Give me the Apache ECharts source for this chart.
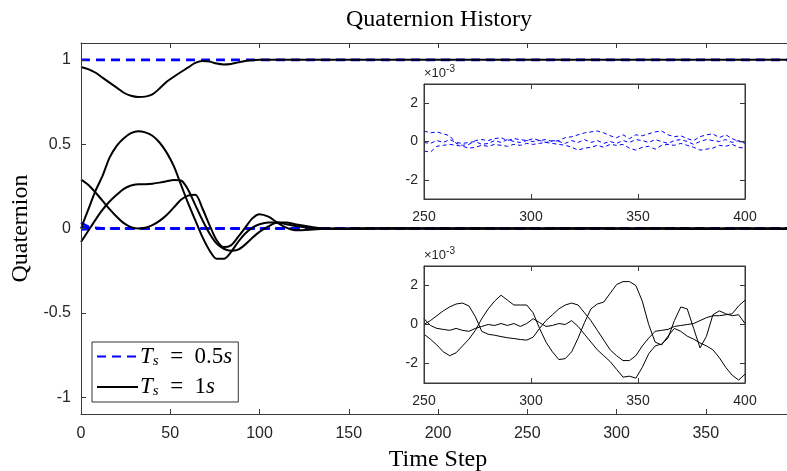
<!DOCTYPE html>
<html>
<head>
<meta charset="utf-8">
<script src="https://cdn.jsdelivr.net/npm/echarts@6/dist/echarts.min.js"></script>
<style>html,body{margin:0;padding:0;background:#fff}#c{width:787px;height:471px}</style>
</head>
<body>
<div id="c"></div>
<script>
// ---- Data ----
var earlyT = [0,4,8,12,16,20,24,28,32,36,40,44,48,52,56,60,64,68,72,76,80,84,88,92,96,100,105,110,115,120,130,140,150,160,170,180,190,200,210,220,230,240];
// Ts = 1s (black), four quaternion components
var blkA = [0.958,0.945,0.925,0.895,0.865,0.835,0.805,0.787,0.78,0.782,0.795,0.83,0.87,0.9,0.928,0.955,0.982,0.994,0.99,0.978,0.973,0.976,0.985,0.993,0.998,1.0,1,1,1,1,1,1,1,1,1,1,1,1,1,1,1,1];
var blkB = [0.0,0.11,0.22,0.31,0.42,0.49,0.535,0.565,0.577,0.57,0.55,0.51,0.45,0.37,0.26,0.15,0.05,-0.05,-0.13,-0.18,-0.18,-0.14,-0.08,-0.03,0.005,0.025,0.035,0.035,0.025,0.015,0.003,-0.002,-0.003,-0.001,0.001,0.002,0.001,0.0,-0.001,0,0.001,0];
var blkC = [0.29,0.26,0.215,0.165,0.115,0.07,0.032,0.008,0.0,0.005,0.02,0.045,0.08,0.125,0.17,0.195,0.2,0.12,0.02,-0.07,-0.11,-0.1,-0.05,0.005,0.06,0.085,0.07,0.035,0.005,-0.01,-0.006,0.0,0.002,0.001,-0.001,-0.002,0,0.001,0,-0.001,0,0];
var blkD = [-0.08,-0.015,0.05,0.11,0.16,0.2,0.235,0.255,0.262,0.263,0.266,0.272,0.28,0.288,0.285,0.23,0.14,0.05,-0.03,-0.09,-0.12,-0.132,-0.125,-0.095,-0.055,-0.02,0.012,0.035,0.035,0.025,0.008,-0.002,-0.003,-0.001,0.001,0.001,0,-0.001,0,0.001,0,0];
// Ts = 0.5s (blue dashed)
var bluA = [1,1,1,1,1,1,1,1,1,1,1,1,1,1,1,1,1,1,1,1,1,1,1,1,1,1,1,1,1,1,1,1,1,1,1,1,1,1,1,1,1,1];
var bluB = [0.035,0.012,0.004,0.001,0,0,0,0,0,0,0,0,0,0,0,0,0,0,0,0,0,0,0,0,0,0,0,0,0,0,0,0,0,0,0,0,0,0,0,0,0,0];
var bluC = [0.01,0.004,0.001,0,0,0,0,0,0,0,0,0,0,0,0,0,0,0,0,0,0,0,0,0,0,0,0,0,0,0,0,0,0,0,0,0,0,0,0,0,0,0];
var bluD = [-0.005,-0.002,0,0,0,0,0,0,0,0,0,0,0,0,0,0,0,0,0,0,0,0,0,0,0,0,0,0,0,0,0,0,0,0,0,0,0,0,0,0,0,0];

// Late steps 250..400 (values in units of 1e-3), shown in the insets
var lateT = [250,253,256,259,262,265,268,271,274,277,280,283,286,289,292,295,298,301,304,307,310,313,316,319,322,325,328,331,334,337,340,343,346,349,352,355,358,361,364,367,370,373,376,379,382,385,388,391,394,397,400];
var lateBlkB = [0.0,0.2,0.45,0.7,0.9,1.05,1.1,0.95,0.4,-0.35,-0.5,-0.55,-0.62,-0.68,-0.72,-0.77,-0.8,-0.65,-0.2,0.2,0.5,0.8,1.0,1.1,1.0,0.6,0.2,-0.3,-0.8,-1.3,-1.6,-1.85,-1.85,-1.6,-1.1,-0.7,-0.35,-0.3,-0.25,-0.1,-0.05,0.0,0.05,0.2,0.35,0.45,0.45,0.5,0.55,0.95,1.25];
var lateBlkC = [-0.5,-0.75,-1.05,-1.4,-1.6,-1.45,-1.1,-0.75,-0.3,0.3,0.8,1.2,1.5,1.25,1.0,1.0,1.0,0.6,-0.2,-0.9,-1.4,-1.8,-1.75,-1.4,-0.7,0.1,0.8,1.05,1.15,1.6,2.05,2.2,2.2,2.0,1.2,0.0,-0.9,-1.05,-0.6,-0.2,-0.35,-0.6,-0.75,-0.95,-1.1,-1.3,-1.7,-2.2,-2.6,-2.85,-2.55];
var lateBlkD = [0.3,-0.05,-0.2,-0.25,-0.3,-0.2,-0.3,-0.35,-0.2,-0.1,0.0,-0.05,0.05,-0.05,0.05,-0.1,0.05,0.3,0.1,-0.1,-0.05,0.05,0.0,0.2,-0.1,-0.5,-0.9,-1.3,-1.6,-1.9,-2.3,-2.7,-2.65,-2.75,-2.2,-1.5,-1.1,-1.0,-0.7,0.2,0.9,0.8,-0.2,-1.2,-0.6,0.5,0.7,0.55,0.45,0.5,0.05];
var lateBluB = [0.55,0.45,0.5,0.4,0.3,-0.1,-0.2,-0.15,0.05,0.1,0.05,0.15,0.2,0.05,0.15,0.1,0.05,0.15,0.05,0.1,0.0,0.05,0.2,0.25,0.35,0.45,0.5,0.55,0.45,0.3,0.2,0.35,0.15,0.35,0.3,0.4,0.5,0.55,0.35,0.25,0.3,0.15,0.05,0.25,0.35,0.4,0.2,0.35,0.15,0.0,-0.05];
var lateBluC = [-0.05,-0.1,0.05,-0.05,0.1,-0.05,-0.1,-0.05,0.0,-0.15,-0.1,0.05,-0.05,0.1,0.0,-0.05,0.05,0.0,0.05,-0.05,0.05,0.0,-0.1,0.05,-0.05,0.1,-0.05,0.05,-0.1,0.0,-0.1,0.05,-0.05,0.1,0.05,-0.05,0.1,0.0,-0.1,0.05,0.1,0.0,-0.15,0.0,0.1,0.05,0.0,0.1,-0.05,0.05,-0.1];
var lateBluD = [-0.5,-0.55,-0.25,-0.2,-0.15,-0.2,-0.25,-0.35,-0.3,-0.2,-0.25,-0.15,-0.2,-0.25,-0.15,-0.2,-0.1,-0.15,-0.1,-0.05,-0.1,-0.15,-0.2,-0.3,-0.45,-0.35,-0.3,-0.2,-0.3,-0.15,-0.2,-0.15,-0.35,-0.45,-0.3,-0.25,-0.4,-0.2,-0.15,-0.2,-0.1,-0.2,-0.3,-0.45,-0.4,-0.35,-0.2,-0.25,-0.15,-0.3,-0.35];

var xTicks = [0,50,100,150,200,250,300,350];
var yTicks = [-1,-0.5,0,0.5,1];
var insetXTicks = [250,300,350,400];
var insetYTicks = [-2,0,2];

// ---- build ----
function mainData(early, late, lateConst) {
  var d = [];
  for (var i = 0; i < earlyT.length; i++) d.push([earlyT[i], early[i]]);
  for (var j = 0; j < lateT.length; j++) d.push([lateT[j], late ? late[j] * 1e-3 : lateConst]);
  return d;
}
function insetData(arr) {
  return lateT.map(function (t, i) { return [t, arr[i]]; });
}
var BLUE = '#0000ff', BLACK = '#000000', AX = '#3a3a3a';
var serif = 'Liberation Serif';
var sans = 'Liberation Sans';

var series = [];
[[bluA, null, 1], [bluB, lateBluB], [bluC, lateBluC], [bluD, lateBluD]].forEach(function (s) {
  series.push({ name: 'Ts05', type: 'line', xAxisIndex: 0, yAxisIndex: 0, data: mainData(s[0], s[1], s[2]),
    showSymbol: false, symbol: 'none', z: 2, smooth: 0.3,
    lineStyle: { color: BLUE, width: 2.6, type: [9, 6] }, itemStyle: { color: BLUE } });
});
[[blkA, null, 1], [blkB, lateBlkB], [blkC, lateBlkC], [blkD, lateBlkD]].forEach(function (s) {
  series.push({ name: 'Ts1', type: 'line', xAxisIndex: 0, yAxisIndex: 0, data: mainData(s[0], s[1], s[2]),
    showSymbol: false, symbol: 'none', z: 3, smooth: 0.3,
    lineStyle: { color: BLACK, width: 2 }, itemStyle: { color: BLACK } });
});
[lateBluB, lateBluC, lateBluD].forEach(function (a) {
  series.push({ type: 'line', xAxisIndex: 2, yAxisIndex: 2, data: insetData(a), showSymbol: false, symbol: 'none', z: 5,
    lineStyle: { color: BLUE, width: 1, type: [4, 3] } });
});
[lateBlkB, lateBlkC, lateBlkD].forEach(function (a) {
  series.push({ type: 'line', xAxisIndex: 4, yAxisIndex: 4, data: insetData(a), showSymbol: false, symbol: 'none', z: 5,
    lineStyle: { color: BLACK, width: 1 } });
});

function ax(grid, pos, min, max, ticks, showLabel, fs, margin) {
  return { type: 'value', gridIndex: grid, position: pos, min: min, max: max, z: 6,
    axisLine: { show: true, onZero: false, lineStyle: { color: AX, width: 1 } },
    axisTick: { show: true, inside: true, length: 5, customValues: ticks, lineStyle: { color: AX } },
    axisLabel: { show: showLabel, customValues: ticks, color: '#262626', fontFamily: sans, fontSize: fs, margin: margin },
    splitLine: { show: false } };
}
var mainX = ax(0, 'bottom', 0, 400, xTicks, true, 16, 12);
mainX.name = 'Time Step'; mainX.nameLocation = 'middle'; mainX.nameGap = 34;
mainX.nameTextStyle = { fontFamily: serif, fontSize: 24, color: '#000' };
var mainY = ax(0, 'left', -1.1, 1.1, yTicks, true, 16, 10);
mainY.name = 'Quaternion'; mainY.nameLocation = 'middle'; mainY.nameGap = 46;
mainY.nameTextStyle = { fontFamily: serif, fontSize: 24, color: '#000' };
var supRich = { a: { fontFamily: sans, fontSize: 13, color: '#262626' }, s: { fontFamily: sans, fontSize: 10, color: '#262626', verticalAlign: 'top', padding: [0, 0, 8, 0] } };
var in1Y = ax(1, 'left', -3, 3, insetYTicks, true, 14, 6);
in1Y.name = '{a|×10}{s|-3}'; in1Y.nameLocation = 'end'; in1Y.nameGap = 2;
in1Y.nameTextStyle = { align: 'left', padding: [0, 0, 0, 0], rich: supRich };
var in2Y = ax(2, 'left', -3, 3, insetYTicks, true, 14, 6);
in2Y.name = '{a|×10}{s|-3}'; in2Y.nameLocation = 'end'; in2Y.nameGap = 2;
in2Y.nameTextStyle = { align: 'left', padding: [0, 0, 0, 0], rich: supRich };

var option = {
  animation: false,
  backgroundColor: '#fff',
  title: { text: 'Quaternion History', left: 434, top: 3, textAlign: 'center',
    textStyle: { fontFamily: serif, fontSize: 24, fontWeight: 'normal', color: '#000' } },
  legend: {
    orient: 'vertical', left: 92, top: 342, padding: [3, 6, 3, 4], itemGap: 7,
    itemWidth: 41, itemHeight: 14, backgroundColor: '#fff', borderColor: '#333', borderWidth: 1,
    itemStyle: { opacity: 0 },
    data: ['Ts05', 'Ts1'],
    formatter: function (n) { return n === 'Ts05' ? '{i|T}{sb|s}{r|  =  0.5}{i|s}' : '{i|T}{sb|s}{r|  =  1}{i|s}'; },
    textStyle: { padding: [0, 0, 0, -3], rich: {
      i: { fontFamily: serif, fontStyle: 'italic', fontSize: 23, lineHeight: 24, color: '#000' },
      sb: { fontFamily: serif, fontStyle: 'italic', fontSize: 15, lineHeight: 24, color: '#000', verticalAlign: 'bottom', padding: [8, 0, 0, 0] },
      r: { fontFamily: serif, fontSize: 23, lineHeight: 24, color: '#000' } } }
  },
  grid: [
    { left: 81, top: 43, width: 714, height: 371, containLabel: false, outerBoundsMode: 'none' },
    { left: 424, top: 84, width: 321, height: 115, show: true, backgroundColor: '#fff', borderWidth: 1, borderColor: AX, z: 4, outerBoundsMode: 'none' },
    { left: 424, top: 266, width: 321, height: 117, show: true, backgroundColor: '#fff', borderWidth: 1, borderColor: AX, z: 4, outerBoundsMode: 'none' }
  ],
  xAxis: [
    mainX,
    ax(0, 'top', 0, 400, xTicks, false, 16, 8),
    ax(1, 'bottom', 250, 400, insetXTicks, true, 14, 11),
    ax(1, 'top', 250, 400, insetXTicks, false, 14, 8),
    ax(2, 'bottom', 250, 400, insetXTicks, true, 14, 11),
    ax(2, 'top', 250, 400, insetXTicks, false, 14, 8)
  ],
  yAxis: [
    mainY,
    ax(0, 'right', -1.1, 1.1, yTicks, false, 16, 8),
    in1Y,
    ax(1, 'right', -3, 3, insetYTicks, false, 14, 8),
    in2Y,
    ax(2, 'right', -3, 3, insetYTicks, false, 14, 8)
  ],
  series: series
};
var chart = echarts.init(document.getElementById('c'), null, { renderer: 'canvas' });
chart.setOption(option);
</script>
</body>
</html>
